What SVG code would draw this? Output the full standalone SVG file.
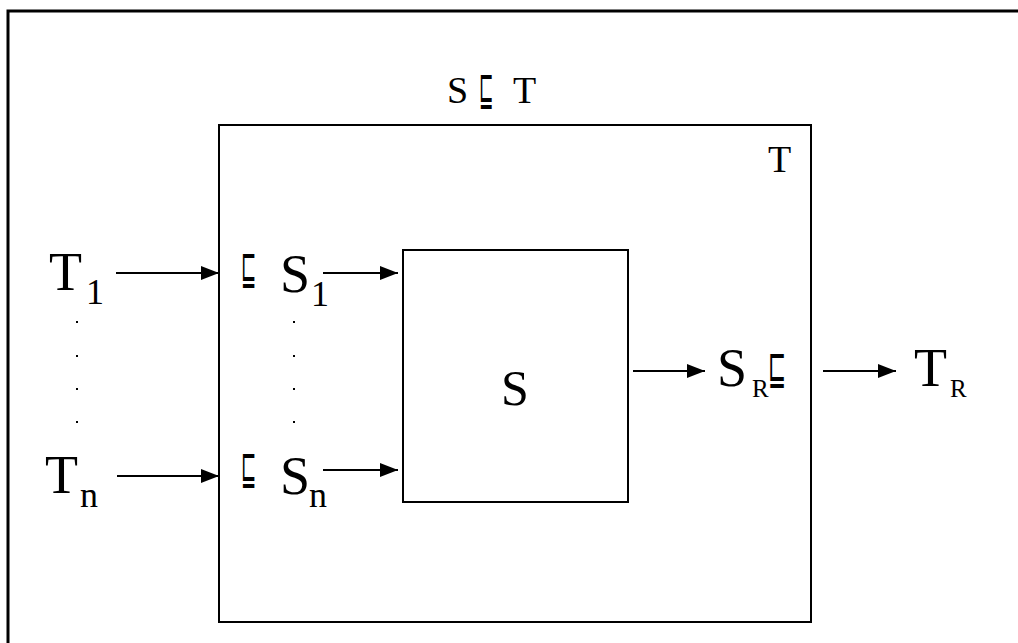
<svg xmlns="http://www.w3.org/2000/svg" width="1018" height="643" viewBox="0 0 1018 643">
<style>
.t{font-family:"Liberation Serif","DejaVu Serif",serif;fill:#000}
.big{font-size:54px}
.mid{font-size:50px}
.med{font-size:38px}
.sub{font-size:36px}
.subs{font-size:25px}
.sq{font-family:"DejaVu Sans","DejaVu Serif",sans-serif;font-size:48px;fill:#000}
.ln{stroke:#000;stroke-width:2;fill:none}
.dot{fill:#000}
</style>
<defs>
<marker id="ah" markerWidth="18" markerHeight="14" refX="18" refY="7" orient="auto" markerUnits="userSpaceOnUse">
<path d="M0,0 L18,7 L0,14 Z" fill="#000"/>
</marker>
</defs>
<rect width="1018" height="643" fill="#fff"/>
<g id="frame"><path d="M8,643 V11 H1030" stroke="#000" stroke-width="3" fill="none"/></g>
<g id="T-box">
<rect x="219" y="125" width="592" height="497" class="ln"/>
<text class="t med" x="768" y="172">T</text>
<text class="t med" x="447" y="103">S</text>
<text class="sq" transform="translate(479,105) scale(0.36,1)">⊑</text>
<text class="t med" x="513" y="103">T</text>
</g>
<g id="S-box">
<rect x="403" y="250" width="225" height="252" class="ln"/>
<text class="t mid" x="515" y="405" text-anchor="middle">S</text>
</g>
<g id="T1"><text class="t big" x="49" y="290">T</text><text class="t sub" x="86" y="304">1</text></g>
<g id="Tn"><text class="t big" x="45" y="493">T</text><text class="t sub" x="80" y="507">n</text></g>
<g id="S1"><text class="sq" transform="translate(241,284) scale(0.38,1)">⊑</text><text class="t big" x="280" y="292">S</text><text class="t sub" x="311" y="306">1</text></g>
<g id="Sn"><text class="sq" transform="translate(241,484) scale(0.38,1)">⊑</text><text class="t big" x="280" y="494">S</text><text class="t sub" x="309" y="507">n</text></g>
<g id="SR"><text class="t big" x="717" y="386">S</text><text class="t subs" x="752" y="397">R</text><text class="sq" transform="translate(768,384) scale(0.45,1)">⊑</text></g>
<g id="TR"><text class="t big" x="914" y="386">T</text><text class="t subs" x="950" y="397">R</text></g>
<g id="dots">
<rect class="dot" x="76" y="321" width="2" height="2"/><rect class="dot" x="76" y="355" width="2" height="2"/><rect class="dot" x="76" y="388" width="2" height="2"/><rect class="dot" x="76" y="421" width="2" height="2"/>
<rect class="dot" x="293" y="321" width="2" height="2"/><rect class="dot" x="293" y="355" width="2" height="2"/><rect class="dot" x="293" y="388" width="2" height="2"/><rect class="dot" x="293" y="421" width="2" height="2"/>
</g>
<g id="connectors">
<line class="ln" x1="116" y1="273" x2="219" y2="273" marker-end="url(#ah)"/>
<line class="ln" x1="117" y1="476" x2="219" y2="476" marker-end="url(#ah)"/>
<line class="ln" x1="323" y1="273" x2="398" y2="273" marker-end="url(#ah)"/>
<line class="ln" x1="323" y1="470" x2="398" y2="470" marker-end="url(#ah)"/>
<line class="ln" x1="633" y1="371" x2="705" y2="371" marker-end="url(#ah)"/>
<line class="ln" x1="823" y1="371" x2="896" y2="371" marker-end="url(#ah)"/>
</g>
</svg>
